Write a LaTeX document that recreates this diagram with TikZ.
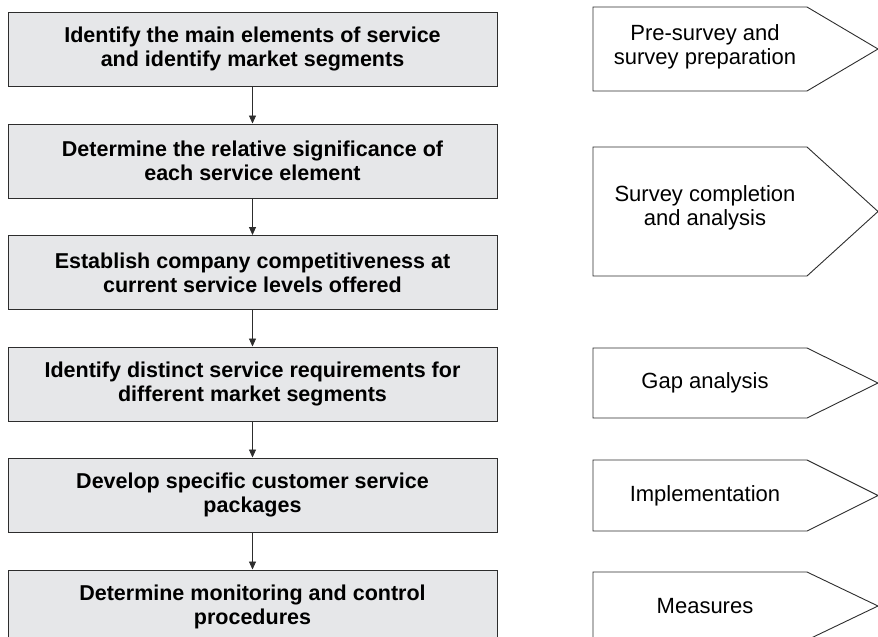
\documentclass[tikz,border=0pt]{standalone}
\usepackage{fontspec}
\setmainfont{Liberation Sans}
\usetikzlibrary{arrows.meta}
\definecolor{boxfill}{RGB}{230,231,233}
\definecolor{edge}{RGB}{45,45,45}
\tikzset{
  stepbox/.style={draw=edge, line width=1pt, fill=boxfill, minimum width=489pt,
    minimum height=74pt, inner sep=0pt, align=center,
    font=\fontsize{21.5}{24}\selectfont\bfseries},
  flowarrow/.style={draw=edge, line width=0.9pt, -{Triangle[width=7pt,length=8pt]}},
  phase/.style={draw=edge, line width=0.9pt, line join=miter},
  phasetext/.style={align=center, inner sep=0pt, font=\fontsize{22}{24}\selectfont}
}
\begin{document}
\begin{tikzpicture}[x=1pt,y=-1pt]
\useasboundingbox (0,0) rectangle (878,637);
\clip (0,0) rectangle (878,637);
% left flow
\node[stepbox] (b1) at (252.5,49) {Identify the main elements of service\\and identify market segments};
\node[stepbox] (b2) at (252.5,161) {Determine the relative significance of\\each service element};
\node[stepbox] (b3) at (252.5,272.5) {Establish company competitiveness at\\current service levels offered};
\node[stepbox] (b4) at (252.5,384) {Identify distinct service requirements for\\different market segments};
\node[stepbox] (b5) at (252.5,495) {Develop specific customer service\\packages};
\node[stepbox] (b6) at (252.5,607) {Determine monitoring and control\\procedures};
\draw[flowarrow] (b1) -- (b2);
\draw[flowarrow] (b2) -- (b3);
\draw[flowarrow] (b3) -- (b4);
\draw[flowarrow] (b4) -- (b5);
\draw[flowarrow] (b5) -- (b6);
% right phases
\draw[phase] (593,7) -- (807,7) -- (878,49) -- (807,91) -- (593,91) -- cycle;
\node[phasetext] (p1) at (705,47) {Pre-survey and\\survey preparation};
\draw[phase] (593,147) -- (807,147) -- (878,211.5) -- (807,276) -- (593,276) -- cycle;
\node[phasetext] (p2) at (705,208) {Survey completion\\and analysis};
\draw[phase] (593,348) -- (807,348) -- (878,383) -- (807,418) -- (593,418) -- cycle;
\node[phasetext] (p3) at (705,383) {Gap analysis};
\draw[phase] (593,460) -- (807,460) -- (878,495.5) -- (807,531) -- (593,531) -- cycle;
\node[phasetext] (p4) at (705,495.5) {Implementation};
\draw[phase] (593,572) -- (807,572) -- (878,606) -- (807,640) -- (593,640) -- cycle;
\node[phasetext] (p5) at (705,606) {Measures};
\end{tikzpicture}
\end{document}
